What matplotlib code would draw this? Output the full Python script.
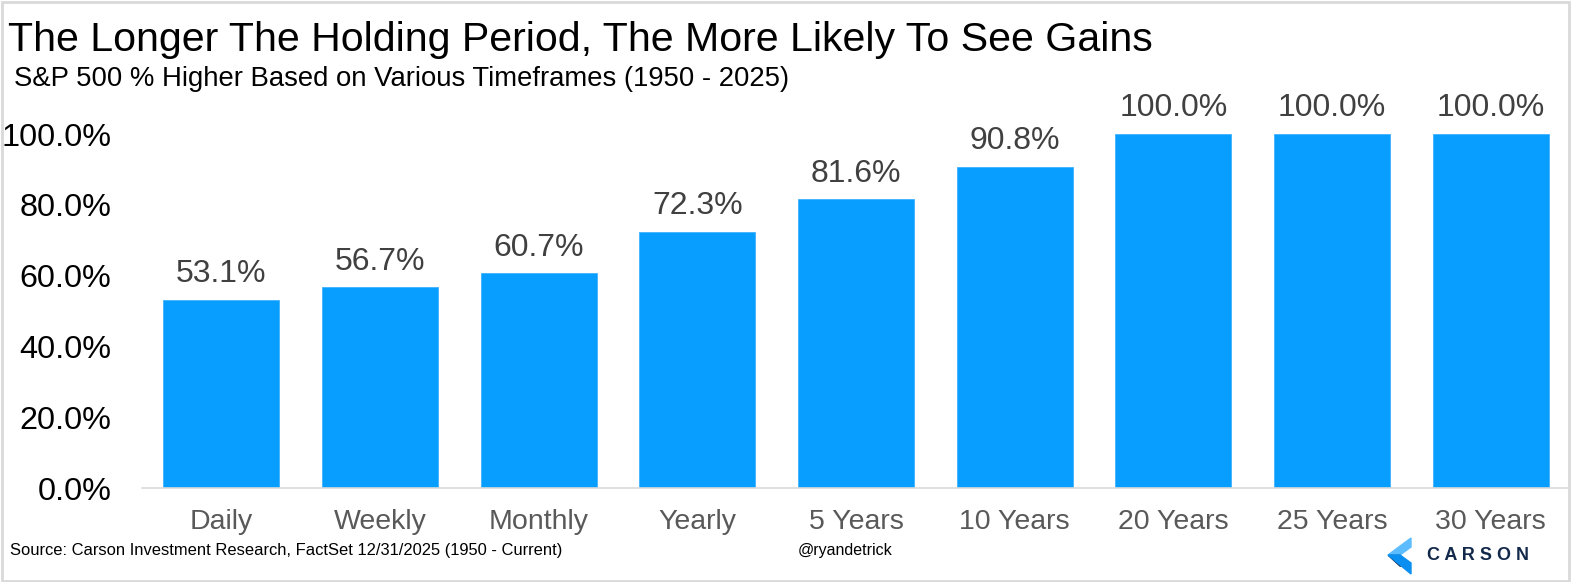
import matplotlib.pyplot as plt
from matplotlib.patches import Polygon, Rectangle

plt.rcParams['font.family'] = ['Liberation Sans', 'DejaVu Sans']

categories = ['Daily', 'Weekly', 'Monthly', 'Yearly', '5 Years', '10 Years',
              '20 Years', '25 Years', '30 Years']
pct_higher = [53.1, 56.7, 60.7, 72.3, 81.6, 90.8, 100.0, 100.0, 100.0]
yticks = [0, 20, 40, 60, 80, 100]

W, H = 1572, 582
fig = plt.figure(figsize=(W / 100, H / 100), dpi=100)
ax = fig.add_axes([142 / W, 94 / H, (1570 - 142) / W, 354 / H])

x = range(len(categories))
ax.bar(x, pct_higher, width=0.73, color='#089EFF', edgecolor='#3fb2ff', linewidth=0.6)
for xi, v in zip(x, pct_higher):
    ax.text(xi, v + 3, f'{v:.1f}%', ha='center', va='bottom', fontsize=23,
            color='#404040', clip_on=False)

ax.set_xlim(-0.5, len(categories) - 0.5)
ax.set_ylim(0, 100)
ax.set_xticks(list(x))
ax.set_xticklabels(categories, fontsize=20.5, color='#595959')
ax.set_yticks(yticks)
ax.set_yticklabels([f'{t:.1f}%' for t in yticks], fontsize=23.3, color='black')
ax.tick_params(axis='x', length=0, pad=15)
ax.tick_params(axis='y', length=0, pad=22)
for s in ['top', 'right', 'left']:
    ax.spines[s].set_visible(False)
ax.spines['bottom'].set_color('#d9d9d9')
ax.spines['bottom'].set_linewidth(1.2)

fig.text(8 / W, 1 - 40 / H, 'The Longer The Holding Period, The More Likely To See Gains',
         fontsize=29.6, color='black', va='center', ha='left')
fig.text(14 / W, 1 - 79 / H, 'S&P 500 % Higher Based on Various Timeframes (1950 - 2025)',
         fontsize=19.8, color='black', va='center', ha='left')
fig.text(10 / W, 1 - 551 / H,
         'Source: Carson Investment Research, FactSet 12/31/2025 (1950 - Current)',
         fontsize=11.9, color='black', va='center', ha='left')
fig.text(845 / W, 1 - 551 / H, '@ryandetrick', fontsize=11.5, color='black',
         va='center', ha='center')

# Carson logo
def px(pts):
    return [(a / W, 1 - b / H) for a, b in pts]

fig.patches.append(Polygon(px([(1411, 538), (1388, 555), (1400, 555), (1411, 547)]),
                           closed=True, color='#5bbcff', transform=fig.transFigure))
fig.patches.append(Polygon(px([(1388, 555), (1400, 555), (1400, 566)]),
                           closed=True, color='#0d2440', transform=fig.transFigure))
fig.patches.append(Polygon(px([(1400, 555), (1411, 563), (1411, 574), (1388, 555)]),
                           closed=True, color='#0a8ff0', transform=fig.transFigure))
fig.text(1478 / W, 1 - 555 / H, 'C A R S O N', fontsize=13, color='#13294b',
         fontweight='bold', va='center', ha='center')

fig.patches.append(Rectangle((0.001, 0.002), 0.997, 0.995, fill=False,
                             edgecolor='#d9d9d9', linewidth=2,
                             transform=fig.transFigure))

fig.savefig('out.png', dpi=100)
